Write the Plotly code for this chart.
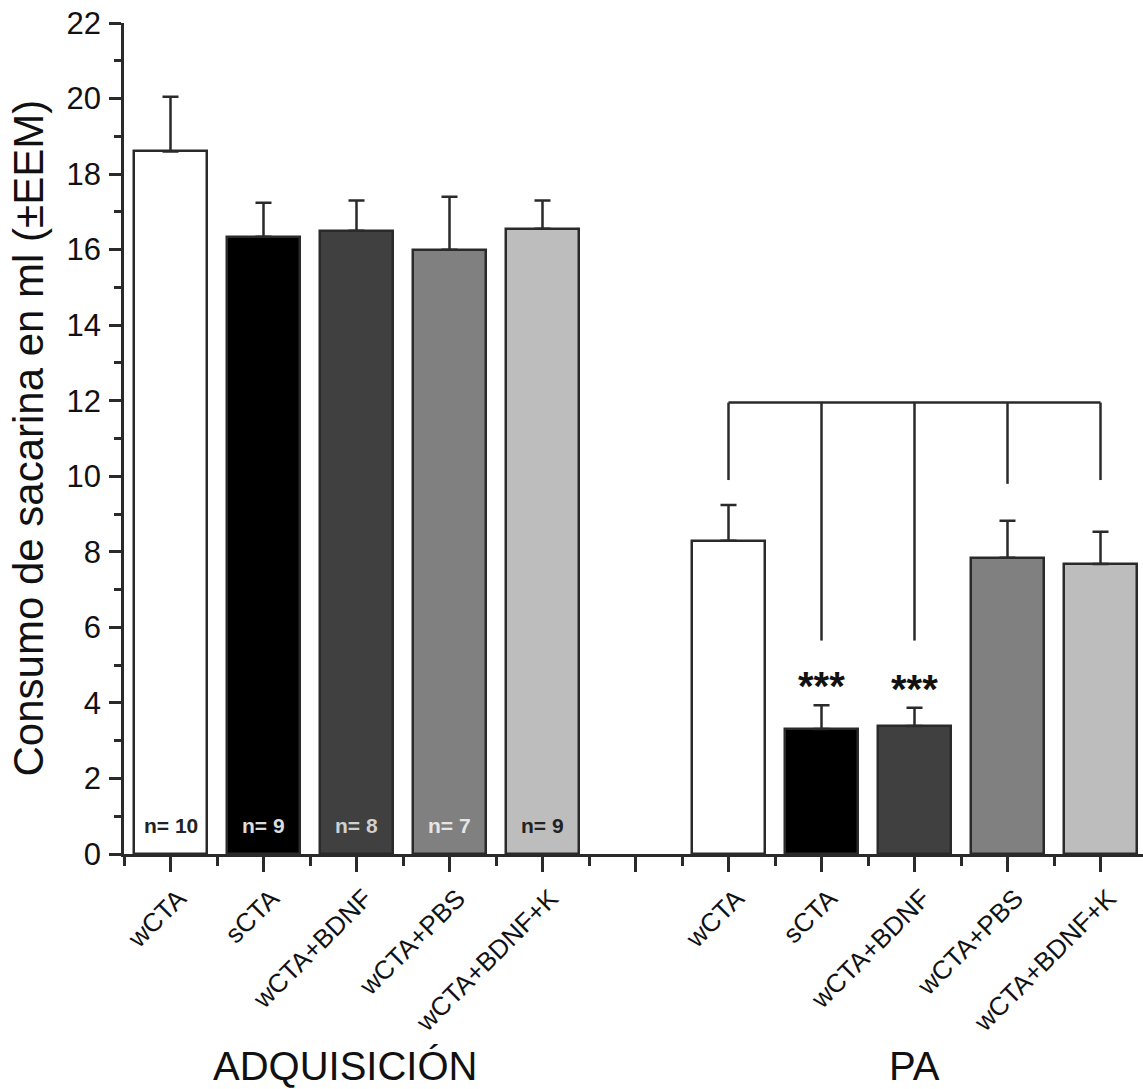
import plotly.graph_objects as go

# ---- data ----
groups = ["ADQUISICIÓN", "PA"]
conditions = ["wCTA", "sCTA", "wCTA+BDNF", "wCTA+PBS", "wCTA+BDNF+K"]
adq_values = [18.6, 16.34, 16.5, 16.0, 16.55]
adq_err = [1.45, 0.9, 0.8, 1.4, 0.75]
pa_values = [8.29, 3.31, 3.39, 7.84, 7.68]
pa_err = [0.95, 0.63, 0.48, 0.98, 0.85]
n_labels = ["n= 10", "n= 9", "n= 8", "n= 7", "n= 9"]
bar_colors = ["#ffffff", "#000000", "#404040", "#808080", "#bdbdbd"]
n_colors = ["#222222", "#dddddd", "#d0d0d0", "#e6e6e6", "#222222"]
sig_labels = ["", "***", "***", "", ""]
bracket_level = 11.95
bracket_ends = [9.9, 5.65, 5.65, 9.8, 9.9]
y_ticks = list(range(0, 23, 2))

FONT = "Liberation Sans, Arial, sans-serif"
INK = "#2a2a2a"

# positions: 5 bars, a gap slot, 5 bars
x_adq = list(range(0, 5))
x_pa = list(range(6, 11))
xs = x_adq + x_pa

fig = go.Figure()
fig.add_trace(go.Bar(
    x=xs,
    y=adq_values + pa_values,
    width=0.79,
    marker=dict(color=bar_colors + bar_colors, line=dict(color=INK, width=2.5)),
    error_y=dict(type="data", symmetric=False, array=adq_err + pa_err,
                 arrayminus=[0] * 10, color=INK, thickness=2.5, width=8),
    showlegend=False,
    hoverinfo="skip",
))

annotations = []
# n labels inside ADQUISICIÓN bars
for xi, lab, col in zip(x_adq, n_labels, n_colors):
    annotations.append(dict(x=xi, y=0.75, xref="x", yref="y", text=f"<b>{lab}</b>",
                            showarrow=False, font=dict(family=FONT, size=21, color=col)))

# significance stars
for xi, s, v, e in zip(x_pa, sig_labels, pa_values, pa_err):
    if s:
        annotations.append(dict(x=xi, y=v + e + 0.72, xref="x", yref="y", text=f"<b>{s}</b>",
                                yanchor="middle", yshift=-8, showarrow=False,
                                font=dict(family=FONT, size=40, color="#111")))

# bracket
shapes = [dict(type="line", xref="x", yref="y", x0=x_pa[0], x1=x_pa[-1],
               y0=bracket_level, y1=bracket_level, line=dict(color=INK, width=2.5))]
for xi, ye in zip(x_pa, bracket_ends):
    shapes.append(dict(type="line", xref="x", yref="y", x0=xi, x1=xi,
                       y0=bracket_level, y1=ye, line=dict(color=INK, width=2.5)))

# group labels
annotations.append(dict(x=sum(x_adq) / 5 - 0.12, y=0, xref="x", yref="paper", yshift=-212,
                        yanchor="middle", text=groups[0], showarrow=False,
                        font=dict(family=FONT, size=40, color="#111")))
annotations.append(dict(x=sum(x_pa) / 5, y=0, xref="x", yref="paper", yshift=-212,
                        yanchor="middle", text=groups[1], showarrow=False,
                        font=dict(family=FONT, size=40, color="#111")))

# y title
annotations.append(dict(x=0, y=0.5, xref="paper", yref="paper", xshift=-96,
                        xanchor="center", yanchor="middle",
                        text="Consumo de sacarina en ml (±EEM)", textangle=-90,
                        showarrow=False, font=dict(family=FONT, size=42, color="#111")))

tickvals = xs[:5] + [5] + xs[5:]
ticktext = conditions + [""] + conditions

fig.update_layout(
    width=1143, height=1089,
    margin=dict(l=124, r=0, t=23, b=235),
    plot_bgcolor="white", paper_bgcolor="white",
    bargap=0,
    annotations=annotations,
    shapes=shapes,
    xaxis=dict(range=[-0.5, -0.5 + 1019 / 93], tickmode="array", tickvals=tickvals,
               ticktext=ticktext, tickangle=-45, ticks="outside", ticklen=15,
               tickwidth=2.5, tickcolor=INK, showline=True, linecolor=INK, linewidth=2.5,
               showgrid=False, zeroline=False, ticklabelstandoff=1, ticklabelshift=8,
               ticklabeloverflow="allow",
               tickfont=dict(family=FONT, size=26, color="#111"),
               minor=dict(tickmode="array", tickvals=[i + 0.5 for i in range(-1, 11)],
                          ticks="outside", ticklen=9, tickwidth=2.5, tickcolor=INK)),
    yaxis=dict(range=[0, 22], tickmode="array", tickvals=y_ticks, ticks="outside",
               ticklen=12, tickwidth=2.5, tickcolor=INK, showline=True, linecolor=INK,
               linewidth=2.5, showgrid=False, zeroline=False, ticklabelstandoff=2,
               ticklabeloverflow="allow",
               tickfont=dict(family=FONT, size=31, color="#111"),
               minor=dict(tickmode="array", tickvals=list(range(1, 22, 2)),
                          ticks="outside", ticklen=7, tickwidth=2.5, tickcolor=INK)),
)

fig.write_html(
    "out.html",
    config={"displayModeBar": False},
    post_script="document.body.style.margin='0';document.documentElement.style.overflow='hidden';",
)
